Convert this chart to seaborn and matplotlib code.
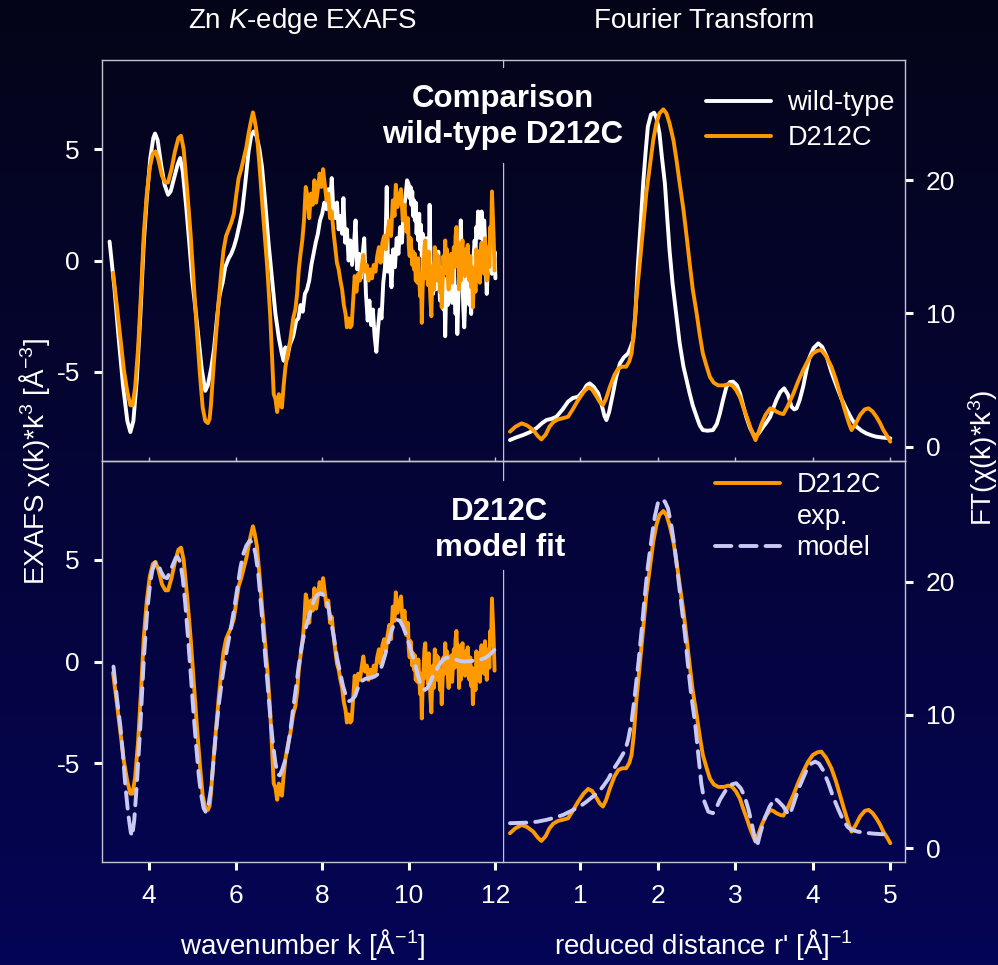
import numpy as np
import pandas as pd
import matplotlib
matplotlib.use("Agg")
import matplotlib.pyplot as plt
from matplotlib.lines import Line2D
import seaborn as sns

# ---------------- data: EXAFS k-space (k in 1/Angstrom, chi*k^3) ----------------
wt_k = [3.09, 3.20, 3.30, 3.40, 3.50, 3.57, 3.64, 3.72, 3.80, 3.88, 3.95, 4.03, 4.10, 4.14,
        4.20, 4.28, 4.36, 4.44, 4.50, 4.58, 4.66, 4.72, 4.78, 4.86, 4.93, 5.00, 5.08, 5.15,
        5.22, 5.30, 5.36, 5.44, 5.50, 5.57, 5.62, 5.66, 5.70, 5.76, 5.84, 5.90, 5.96, 6.02,
        6.10, 6.15, 6.22, 6.30, 6.36, 6.42, 6.48, 6.55, 6.61, 6.68, 6.76, 6.84, 6.92, 7.00,
        7.07, 7.11, 7.15, 7.19, 7.25, 7.33, 7.40,
        7.45, 7.50, 7.55, 7.60, 7.65, 7.70, 7.75, 7.80, 7.85, 7.90, 7.95, 8.00, 8.05, 8.10,
        8.14, 8.18, 8.22, 8.26, 8.30, 8.34, 8.38, 8.42, 8.46, 8.49, 8.53, 8.57, 8.61, 8.65,
        8.69, 8.73, 8.77, 8.81, 8.85, 8.89, 8.93, 8.97, 9.01, 9.05, 9.09, 9.13, 9.17, 9.21,
        9.25, 9.29, 9.33, 9.37, 9.41, 9.45, 9.49, 9.52, 9.56, 9.60, 9.64, 9.68, 9.72, 9.76,
        9.80, 9.84, 9.88, 9.92, 9.96,
        10.00, 10.02, 10.04, 10.06, 10.08, 10.10, 10.12, 10.14, 10.16, 10.18, 10.20, 10.22,
        10.24, 10.26, 10.28, 10.30, 10.32, 10.34, 10.36, 10.38, 10.40, 10.42, 10.44, 10.46,
        10.48, 10.50, 10.52, 10.54, 10.56, 10.58, 10.60, 10.62, 10.64, 10.66, 10.68, 10.70,
        10.72, 10.74, 10.76, 10.78, 10.80, 10.82, 10.84, 10.86, 10.88, 10.90, 10.92, 10.94,
        10.96, 10.98, 11.00, 11.02, 11.04, 11.06, 11.08, 11.10, 11.12, 11.14, 11.16, 11.18,
        11.20, 11.22, 11.24, 11.26, 11.28, 11.30, 11.32, 11.34, 11.36, 11.38, 11.40, 11.42,
        11.44, 11.46, 11.48, 11.50, 11.52, 11.54, 11.56, 11.58, 11.60, 11.62, 11.64, 11.66,
        11.68, 11.70, 11.72, 11.74, 11.76, 11.78, 11.80, 11.82, 11.84, 11.86, 11.88, 11.90,
        11.92, 11.94, 11.96, 11.98, 12.00]
wt_chi = [0.85, -1.2, -3.5, -5.6, -7.2, -7.7, -7.2, -5.3, -2.5, 0.8, 2.8, 4.6, 5.5, 5.7,
          5.4, 4.3, 3.4, 2.95, 3.1, 3.7, 4.3, 4.6, 4.0, 2.4, 0.8, -0.9, -2.3, -3.6,
          -4.9, -5.85, -5.6, -4.8, -4.0, -2.6, -1.7, -1.3, -1.0, -0.3, 0.1, 0.3, 0.6, 1.0,
          1.7, 2.2, 3.4, 4.9, 5.6, 5.8, 5.6, 5.0, 4.2, 2.7, 0.8, -0.8, -2.4, -3.5,
          -4.2, -4.5, -3.9, -4.4, -3.8, -3.4, -2.7,
          -2.6, -2.0, -2.3, -1.5, -1.3, -0.9, -0.2, 0.3, 0.8, 1.2, 1.8, 2.1, 2.6, 2.3,
          3.2, 2.4, 3.7, 2.2, 1.9, 2.6, 1.4, 2.0, 1.2, 2.8, 0.8, 1.4, 0.0, 0.9,
          -0.2, 0.6, 1.8, -0.4, 0.3, -0.8, 0.2, 1.0, -1.5, -2.7, -1.8, -2.9, -2.2, -3.4,
          -4.1, -3.0, -2.2, -2.6, -1.0, -0.3, 3.3, -0.5, 0.2, -1.2, 0.5, -0.3, 1.0, 0.3,
          1.5, 0.8, 2.2, 2.8, 3.6,
          3.4, 2.8, 3.3, 2.5, 3.1, 2.0, 2.7, 1.8, 2.6, 1.2, 2.0, 0.9,
          2.1, 0.5, 1.6, 0.2, 1.2, -0.5, 0.8, -0.2, 1.0, -0.8, 0.5, -0.4,
          2.5, 0.0, -1.2, -0.3, -1.5, -0.6, -0.1, -1.3, 0.2, -1.0, 0.4, -0.9,
          -1.8, -0.5, -1.4, -0.3, -2.2, -1.0, -3.4, -1.6, -0.8, -2.0, -1.1, -0.4,
          -1.5, -0.6, -1.9, -0.9, -0.3, -1.6, -2.4, -1.2, -3.3, -1.9, -0.6, 0.5,
          1.8, 0.2, -1.0, -2.2, -3.0, -2.0, -1.2, -0.4, -1.5, -0.8, -2.0, -1.1,
          -2.4, -0.9, -0.2, 0.3, 0.9, 0.4, 1.5, 1.0, 2.2, 1.3, 1.9, 1.0,
          2.2, 1.4, 0.6, 1.8, 0.9, -0.4, -1.5, -0.6, 0.3, -0.3, 0.8, 0.1,
          -0.6, 0.5, -0.2, 0.4, -0.8]

mut_k = [3.17, 3.25, 3.33, 3.42, 3.50, 3.57, 3.62, 3.68, 3.75, 3.82, 3.88, 3.95, 4.02, 4.09,
         4.15, 4.22, 4.30, 4.38, 4.44, 4.52, 4.60, 4.68, 4.74, 4.80, 4.88, 4.96, 5.04, 5.11,
         5.18, 5.24, 5.30, 5.36, 5.40, 5.43, 5.49, 5.55, 5.61, 5.67, 5.72, 5.78, 5.84, 5.90,
         5.96, 6.02, 6.07, 6.13, 6.19, 6.25, 6.30, 6.35, 6.40, 6.44, 6.49, 6.55, 6.61, 6.67,
         6.73, 6.80, 6.84, 6.88, 6.92, 6.96, 7.00, 7.04, 7.07, 7.11, 7.15, 7.20, 7.26, 7.33,
         7.38,
         7.42, 7.46, 7.50, 7.54, 7.58, 7.62, 7.66, 7.70, 7.74, 7.78, 7.82, 7.86, 7.90, 7.94,
         7.98, 8.02, 8.06, 8.10, 8.14, 8.18, 8.22, 8.26, 8.30, 8.34, 8.38, 8.42, 8.46, 8.50,
         8.54, 8.57, 8.61, 8.65, 8.68, 8.72, 8.75, 8.79, 8.83, 8.87, 8.91, 8.95, 8.99, 9.03,
         9.07, 9.11, 9.15, 9.19, 9.23, 9.27, 9.31, 9.35, 9.39, 9.43, 9.47, 9.51, 9.55, 9.59,
         9.63, 9.67, 9.70, 9.74, 9.78, 9.82, 9.86, 9.90, 9.94, 9.98,
         10.00, 10.02, 10.04, 10.06, 10.08, 10.10, 10.12, 10.14, 10.16, 10.18, 10.20, 10.22,
         10.24, 10.26, 10.28, 10.30, 10.32, 10.34, 10.36, 10.38, 10.40, 10.42, 10.44, 10.46,
         10.48, 10.50, 10.52, 10.54, 10.56, 10.58, 10.60, 10.62, 10.64, 10.66, 10.68, 10.70,
         10.72, 10.74, 10.76, 10.78, 10.80, 10.82, 10.84, 10.86, 10.88, 10.90, 10.92, 10.94,
         10.96, 10.98, 11.00, 11.02, 11.04, 11.06, 11.08, 11.10, 11.12, 11.14, 11.16, 11.18,
         11.20, 11.22, 11.24, 11.26, 11.28, 11.30, 11.32, 11.34, 11.36, 11.38, 11.40, 11.42,
         11.44, 11.46, 11.48, 11.50, 11.52, 11.54, 11.56, 11.58, 11.60, 11.62, 11.64, 11.66,
         11.68, 11.70, 11.72, 11.74, 11.76, 11.78, 11.80, 11.82, 11.84, 11.86, 11.88, 11.90,
         11.92, 11.94, 11.96, 11.98]
mut_chi = [-0.55, -1.9, -3.3, -4.9, -5.9, -6.5, -6.5, -5.7, -3.9, -1.3, 1.2, 3.0, 4.2, 4.8,
           4.9, 4.5, 3.8, 3.5, 3.5, 4.1, 4.9, 5.5, 5.6, 5.0, 3.2, 1.2, -1.2, -3.3,
           -5.2, -6.6, -7.2, -7.3, -7.1, -6.5, -4.8, -3.3, -1.8, -0.5, 0.45, 1.1, 1.4, 1.7,
           2.1, 3.0, 3.7, 4.1, 4.6, 5.1, 5.7, 6.2, 6.65, 6.3, 5.7, 4.3, 2.7, 1.2,
           -0.3, -2.5, -4.3, -6.0, -6.2, -6.8, -6.0, -6.5, -6.6, -5.6, -4.8, -4.2, -3.6, -2.6,
           -2.2,
           -1.5, -0.4, 0.3, 0.9, 1.8, 3.3, 2.9, 1.9, 3.0, 2.5, 3.6, 2.6, 3.2, 3.9,
           3.3, 4.1, 3.4, 2.7, 3.0, 1.9, 2.2, 1.3, 0.6, -0.1, -0.4, -0.9, -1.3, -2.0,
           -2.4, -3.0, -2.6, -3.0, -2.9, -1.6, -0.7, -1.4, -0.6, -0.9, -0.3, 0.25, -0.5, -0.2,
           -0.9, -0.4, -0.8, -0.2, -0.5, 0.2, 0.6, -0.1, 0.8, 1.1, 0.5, 1.3, 1.8, 1.1,
           2.7, 2.0, 3.4, 2.4, 2.8, 3.2, 1.8, 2.5, 1.3, 1.9,
           0.6, 0.2, 1.0, 0.5, -0.2, 0.4, -0.4, 0.3, -0.9, -0.3, -1.0, 0.1,
           -0.8, -1.6, -0.6, -2.8, -1.2, -0.4, 0.6, 0.9, -0.8, 0.2, -1.1, 0.4,
           -0.9, -1.8, -2.5, -1.0, -0.2, -1.3, 0.6, -0.6, 0.3, -0.9, 0.2, -0.4,
           -1.4, -0.5, -2.1, -0.9, 0.2, -0.6, 0.9, 0.0, 0.5, -0.7, -1.3, 0.1,
           -0.6, 0.3, -1.0, -0.2, 0.6, -0.3, 1.1, 1.5, 0.2, 0.8, -1.3, -0.2,
           -0.9, 0.4, 0.9, -0.5, 0.1, -0.7, 0.5, -0.2, 0.7, -0.4, -0.9, 0.2,
           -1.2, -0.3, -2.1, -1.0, -0.4, -1.4, 0.5, -0.3, 0.4, -0.5, -1.0, 0.3,
           0.8, -0.4, 0.3, -0.6, 1.0, 0.1, -0.9, 0.2, 0.6, -0.3, 1.5, 0.9,
           3.1, 2.0, 1.0, -0.45]

fit_k = [3.18, 3.26, 3.34, 3.40, 3.45, 3.52, 3.58, 3.61, 3.66, 3.72, 3.80, 3.88, 3.96, 4.03,
         4.08, 4.15, 4.21, 4.28, 4.35, 4.42, 4.48, 4.55, 4.62, 4.66, 4.72, 4.78, 4.84, 4.90,
         4.96, 5.02, 5.08, 5.15, 5.20, 5.26, 5.31, 5.37, 5.43, 5.49, 5.55, 5.62, 5.70, 5.80,
         5.88, 5.96, 6.04, 6.11, 6.18, 6.25, 6.33, 6.40, 6.46, 6.52, 6.57, 6.63, 6.69, 6.75,
         6.80, 6.86, 6.92, 6.97, 7.02, 7.08, 7.14, 7.20, 7.27, 7.33, 7.40, 7.46, 7.53, 7.60,
         7.68, 7.76, 7.83, 7.90, 7.96, 8.02, 8.08, 8.14, 8.20, 8.27, 8.34, 8.41, 8.48, 8.55,
         8.62, 8.68, 8.76, 8.84, 8.92, 9.00, 9.10, 9.20, 9.30, 9.38, 9.45, 9.52, 9.60, 9.67,
         9.73, 9.80, 9.87, 9.94, 10.00, 10.07, 10.14, 10.20, 10.26, 10.32, 10.37, 10.43,
         10.49, 10.56, 10.64, 10.72, 10.80, 10.88, 10.96, 11.07, 11.20, 11.30, 11.42, 11.53,
         11.65, 11.76, 11.85, 11.92, 11.99]
fit_chi = [-0.25, -1.8, -3.2, -4.6, -6.0, -7.5, -8.4, -8.6, -7.8, -6.0, -3.2, 0.1, 2.5, 3.9,
           4.5, 4.9, 4.8, 4.4, 4.15, 4.1, 4.4, 4.75, 5.1, 5.15, 4.9, 4.1, 2.8, 1.2,
           -0.5, -2.3, -3.9, -5.6, -6.5, -7.2, -7.4, -7.1, -6.3, -4.9, -3.4, -2.0, -0.7, 0.6,
           1.5, 2.5, 3.6, 4.6, 5.3, 5.7, 5.95, 5.8, 5.3, 4.4, 3.2, 1.7, 0.1, -1.4,
           -2.7, -4.0, -5.0, -5.55, -5.6, -5.3, -4.9, -4.3, -3.3, -2.3, -1.2, -0.2, 0.8, 1.5,
           2.1, 2.7, 3.1, 3.3, 3.35, 3.3, 3.1, 2.7, 2.0, 1.2, 0.2, -0.5, -1.2, -1.7,
           -1.95, -1.9, -1.7, -1.2, -0.95, -0.85, -0.8, -0.75, -0.6, -0.2, 0.3, 0.9, 1.5, 1.9,
           2.05, 2.0, 1.7, 1.3, 0.9, 0.4, -0.1, -0.6, -1.05, -1.3, -1.4, -1.3,
           -1.05, -0.7, -0.4, -0.1, 0.1, 0.2, 0.15, 0.1, 0.02, 0.0, 0.02, 0.05,
           0.1, 0.17, 0.3, 0.45, 0.6]

# ---------------- data: Fourier transforms (reduced distance r', |FT|) ----------------
wt_r = [0.09, 0.17, 0.26, 0.35, 0.43, 0.50, 0.56, 0.63, 0.69, 0.77, 0.84, 0.90, 0.97, 1.04,
        1.08, 1.12, 1.17, 1.23, 1.28, 1.31, 1.335, 1.37, 1.42, 1.46, 1.51, 1.56, 1.615, 1.65,
        1.68, 1.71, 1.74, 1.78, 1.81, 1.84, 1.87, 1.91, 1.95, 1.98, 2.02, 2.05, 2.09, 2.12,
        2.15, 2.19, 2.24, 2.28, 2.33, 2.37, 2.41, 2.45, 2.50, 2.54, 2.58, 2.64, 2.71, 2.76,
        2.80, 2.84, 2.885, 2.93, 2.97, 3.02, 3.06, 3.10, 3.14, 3.19, 3.25, 3.30, 3.36, 3.40,
        3.45, 3.49, 3.53, 3.58, 3.63, 3.68, 3.725, 3.76, 3.79, 3.83, 3.875, 3.92, 3.96, 4.01,
        4.07, 4.12, 4.18, 4.24, 4.31, 4.37, 4.44, 4.50, 4.565, 4.63, 4.69, 4.76, 4.82, 4.91,
        5.0]
wt_ft = [0.5, 0.7, 0.88, 1.1, 1.38, 1.75, 2.0, 2.1, 2.25, 2.8, 3.38, 3.65, 3.75, 4.2,
         4.6, 4.75, 4.5, 4.0, 3.0, 2.3, 2.0, 2.6, 4.0, 5.2, 6.25, 6.7, 7.0, 7.5,
         8.0, 10.0, 13.5, 17.0, 19.75, 22.0, 24.0, 24.9, 25.05, 24.7, 23.5, 21.8, 19.75, 17.2,
         14.75, 12.2, 9.75, 7.8, 6.0, 5.0, 4.0, 3.1, 2.25, 1.6, 1.25, 1.2, 1.25, 1.7,
         2.5, 3.5, 4.5, 4.85, 4.88, 4.6, 4.0, 3.1, 2.25, 1.4, 0.75, 1.0, 1.5, 1.8,
         2.25, 2.9, 3.5, 4.1, 4.38, 3.9, 3.0, 2.8, 2.88, 3.5, 4.5, 5.8, 6.75, 7.4,
         7.75, 7.5, 6.75, 5.6, 4.5, 3.6, 2.75, 2.1, 1.5, 1.2, 1.0, 0.85, 0.75, 0.68,
         0.63]

mut_r = [0.09, 0.16, 0.24, 0.31, 0.39, 0.45, 0.495, 0.55, 0.60, 0.65, 0.71, 0.78, 0.84, 0.90,
         0.97, 1.04, 1.10, 1.15, 1.21, 1.25, 1.29, 1.33, 1.38, 1.44, 1.49, 1.54, 1.59, 1.63,
         1.66, 1.69, 1.72, 1.77, 1.81, 1.85, 1.895, 1.94, 1.98, 2.02, 2.07, 2.11, 2.15, 2.20,
         2.24, 2.28, 2.33, 2.37, 2.41, 2.45, 2.50, 2.54, 2.58, 2.63, 2.67, 2.72, 2.78, 2.85,
         2.91, 2.96, 3.01, 3.06, 3.10, 3.15, 3.19, 3.23, 3.26, 3.30, 3.34, 3.39, 3.45, 3.49,
         3.53, 3.58, 3.62, 3.68, 3.75, 3.81, 3.875, 3.94, 4.00, 4.06, 4.11, 4.17, 4.24, 4.30,
         4.35, 4.40, 4.44, 4.47, 4.50, 4.55, 4.61, 4.67, 4.72, 4.77, 4.82, 4.87, 4.91, 4.96,
         5.0]
mut_ft = [1.13, 1.5, 1.75, 1.6, 1.25, 0.8, 0.55, 0.9, 1.5, 1.85, 2.05, 2.15, 2.25, 2.8,
          3.5, 4.1, 4.45, 4.3, 3.75, 3.35, 3.13, 3.6, 4.5, 5.4, 5.88, 6.0, 6.0, 6.4,
          7.0, 8.6, 11.0, 14.0, 16.5, 19.0, 21.0, 23.0, 24.25, 25.0, 25.3, 25.0, 24.25, 23.0,
          21.5, 19.8, 17.75, 15.8, 13.75, 11.8, 10.0, 8.4, 7.0, 6.0, 5.25, 4.8, 4.6, 4.6,
          4.7, 4.6, 4.25, 3.7, 3.0, 2.2, 1.5, 0.9, 0.5, 1.1, 1.75, 2.4, 2.88, 2.8,
          2.63, 2.5, 2.45, 3.1, 4.0, 4.9, 5.75, 6.5, 7.0, 7.2, 7.25, 6.8, 6.0, 5.0,
          4.0, 3.0, 2.25, 1.7, 1.25, 1.7, 2.38, 2.8, 2.88, 2.65, 2.25, 1.75, 1.25, 0.8,
          0.38]

fit_r = [0.09, 0.20, 0.34, 0.45, 0.56, 0.67, 0.775, 0.88, 0.99, 1.08, 1.16, 1.23, 1.29, 1.36,
         1.42, 1.48, 1.53, 1.58, 1.615, 1.66, 1.70, 1.75, 1.79, 1.83, 1.87, 1.92, 1.96, 2.00,
         2.05, 2.09, 2.13, 2.18, 2.22, 2.26, 2.30, 2.35, 2.39, 2.43, 2.48, 2.52, 2.56, 2.60,
         2.65, 2.71, 2.76, 2.80, 2.86, 2.91, 2.96, 3.01, 3.07, 3.12, 3.17, 3.21, 3.25, 3.28,
         3.32, 3.38, 3.44, 3.51, 3.56, 3.62, 3.66, 3.70, 3.75, 3.81, 3.87, 3.92, 3.98, 4.03,
         4.08, 4.13, 4.20, 4.26, 4.33, 4.39, 4.45, 4.50, 4.58, 4.65, 4.78, 4.91]
fit_ft = [1.88, 1.9, 1.93, 2.0, 2.13, 2.3, 2.5, 2.8, 3.13, 3.5, 3.88, 4.2, 4.63, 5.2,
          5.88, 6.4, 6.88, 7.4, 8.13, 9.5, 11.38, 14.0, 16.38, 18.9, 21.13, 23.3, 24.88, 25.9,
          26.18, 26.0, 25.5, 24.0, 22.38, 20.4, 18.38, 16.0, 13.63, 11.5, 9.38, 7.1, 4.88, 3.5,
          2.75, 2.63, 3.1, 3.63, 4.2, 4.63, 4.8, 4.88, 4.5, 3.88, 2.9, 1.88, 0.8, 0.13,
          1.1, 2.25, 3.1, 3.75, 3.5, 3.13, 2.75, 2.5, 3.3, 4.38, 5.2, 5.88, 6.35, 6.5,
          6.35, 5.88, 4.9, 3.88, 2.9, 2.13, 1.6, 1.38, 1.25, 1.18, 1.1, 1.05]

# tick values
k_ticks = [4, 6, 8, 10, 12]
r_ticks = [1, 2, 3, 4, 5]
chi_ticks = [-5, 0, 5]
ft_ticks = [0, 10, 20]

# ---------------- styling ----------------
sns.set_theme(style="ticks")
plt.rcParams["font.family"] = ["Liberation Sans", "DejaVu Sans"]
plt.rcParams["mathtext.fontset"] = "custom"
plt.rcParams["mathtext.rm"] = "Liberation Sans"
plt.rcParams["mathtext.it"] = "Liberation Sans:italic"
plt.rcParams["mathtext.bf"] = "Liberation Sans:bold"
plt.rcParams["axes.unicode_minus"] = False

WHITE = "#ffffff"
ORANGE = "#ff9900"
LAVENDER = "#c9c9f4"
FRAME = "#c4c4d0"
LW = 2.8
FS = 19
DASH = (0, (4.2, 2.3))

W, H = 998, 965
fig = plt.figure(figsize=(W / 100, H / 100), dpi=100)

# vertical navy gradient behind everything
bg = fig.add_axes([0, 0, 1, 1], zorder=0)
top_rgb = np.array([4, 4, 24]) / 255
bot_rgb = np.array([5, 5, 86]) / 255
t = np.linspace(0, 1, 256)[:, None]
grad = top_rgb[None, :] * (1 - t) + bot_rgb[None, :] * t
bg.imshow(np.repeat(grad[:, None, :], 4, axis=1), aspect="auto", extent=[0, 1, 0, 1],
          interpolation="bilinear")
bg.set_axis_off()


def px_axes(x0, y0, x1, y1):
    """Axes from a pixel box measured from the top-left corner."""
    return fig.add_axes([x0 / W, 1 - y1 / H, (x1 - x0) / W, (y1 - y0) / H], zorder=1)


ax_tl = px_axes(102, 60, 503, 461)
ax_tr = px_axes(503, 60, 905, 461)
ax_bl = px_axes(102, 461, 503, 862)
ax_br = px_axes(503, 461, 905, 862)


def draw(ax, x, y, color, dashed=False):
    df = pd.DataFrame({"x": x, "y": y})
    sns.lineplot(data=df, x="x", y="y", ax=ax, color=color, lw=LW, sort=False,
                 estimator=None, legend=False, solid_joinstyle="round",
                 solid_capstyle="round")
    line = ax.lines[-1]
    if dashed:
        line.set_linestyle(DASH)
        line.set_dash_capstyle("round")
    return line


draw(ax_tl, wt_k, wt_chi, WHITE)
draw(ax_tl, mut_k, mut_chi, ORANGE)
draw(ax_bl, mut_k, mut_chi, ORANGE)
draw(ax_bl, fit_k, fit_chi, LAVENDER, dashed=True)

draw(ax_tr, wt_r, wt_ft, WHITE)
draw(ax_tr, mut_r, mut_ft, ORANGE)
draw(ax_br, mut_r, mut_ft, ORANGE)
draw(ax_br, fit_r, fit_ft, LAVENDER, dashed=True)

for ax in (ax_tl, ax_tr, ax_bl, ax_br):
    ax.set_facecolor("none")
    ax.set_xlabel("")
    ax.set_ylabel("")
    for s in ax.spines.values():
        s.set_color(FRAME)
        s.set_linewidth(1.0)

ax_tl.set_xlim(2.915, 12.175)
ax_bl.set_xlim(2.915, 12.175)
ax_tr.set_xlim(0, 5.19)
ax_br.set_xlim(0, 5.19)
ax_tl.set_ylim(-9.0, 9.0)
ax_bl.set_ylim(-9.86, 9.86)
ax_tr.set_ylim(-1.07, 29.0)
ax_br.set_ylim(-1.03, 29.05)

# shared inner divider drawn by hand so the bold captions can interrupt it
for ax in (ax_tl, ax_bl):
    ax.spines["right"].set_visible(False)
for ax in (ax_tr, ax_br):
    ax.spines["left"].set_visible(False)
ax_tr.axvline(0, 0, 0.743, color=FRAME, lw=1.0, zorder=2)
ax_tr.axvline(0, 0.983, 1, color=FRAME, lw=1.0, zorder=2)
ax_br.axvline(0, 0, 0.728, color=FRAME, lw=1.0, zorder=2)
ax_br.axvline(0, 0.953, 1, color=FRAME, lw=1.0, zorder=2)

tick_kw = dict(length=5.8, width=2.2, color=WHITE, labelsize=FS, labelcolor=WHITE)

for ax in (ax_tl, ax_bl):
    ax.set_yticks(chi_ticks)
    ax.set_yticklabels([str(v) for v in chi_ticks])
    ax.tick_params(axis="y", direction="out", pad=10, **tick_kw)
for ax in (ax_tr, ax_br):
    ax.yaxis.tick_right()
    ax.set_yticks(ft_ticks)
    ax.set_yticklabels([str(v) for v in ft_ticks])
    ax.tick_params(axis="y", direction="out", pad=9, left=False, right=True, **tick_kw)

ax_tl.set_xticks(k_ticks)
ax_bl.set_xticks(k_ticks)
ax_tr.set_xticks(r_ticks)
ax_br.set_xticks(r_ticks)
for ax in (ax_tl, ax_tr):
    ax.tick_params(axis="x", direction="in", length=3, width=1, color=FRAME,
                   labelbottom=False)
for ax, ticks in ((ax_bl, k_ticks), (ax_br, r_ticks)):
    ax.set_xticklabels([str(v) for v in ticks])
    ax.tick_params(axis="x", direction="out", pad=10, **tick_kw)

# legends
ax_tr.legend(
    handles=[Line2D([], [], color=WHITE, lw=LW), Line2D([], [], color=ORANGE, lw=LW)],
    labels=["wild-type", "D212C"], loc="upper left", bbox_to_anchor=(0.505, 0.925),
    frameon=False, fontsize=FS + 0.5, handlelength=2.4, handletextpad=0.6,
    labelspacing=0.33, borderpad=0, borderaxespad=0, labelcolor=WHITE)
ax_br.legend(
    handles=[Line2D([], [], color=ORANGE, lw=LW), Line2D([], [], color="none", lw=0),
             Line2D([], [], color=LAVENDER, lw=LW, linestyle=DASH, dash_capstyle="round")],
    labels=["D212C", "exp.", "model"], loc="upper left", bbox_to_anchor=(0.528, 0.972),
    frameon=False, fontsize=FS + 0.5, handlelength=2.4, handletextpad=0.6,
    labelspacing=0.2, borderpad=0, borderaxespad=0, labelcolor=WHITE)

# bold captions centred on the divider
fig.text(503 / W, 1 - 117 / H, "Comparison\nwild-type D212C", ha="center", va="center",
         fontsize=22.5, fontweight="bold", color=WHITE, linespacing=1.3)
fig.text(500 / W, 1 - 530 / H, "D212C\nmodel fit", ha="center", va="center",
         fontsize=22.5, fontweight="bold", color=WHITE, linespacing=1.3)

# column titles
fig.text(302.5 / W, 1 - 21 / H, "Zn $K$-edge EXAFS", ha="center", va="center",
         fontsize=20, color=WHITE)
fig.text(704 / W, 1 - 21 / H, "Fourier Transform", ha="center", va="center",
         fontsize=20, color=WHITE)

# axis labels
fig.text(35 / W, 1 - 462 / H, "EXAFS χ(k)*k$^3$ [Å$^{-3}$]", ha="center", va="center",
         rotation=90, fontsize=FS + 1, color=WHITE)
fig.text(983 / W, 1 - 458 / H, "FT(χ(k)*k$^3$)", ha="center", va="center",
         rotation=90, fontsize=FS + 1, color=WHITE)
fig.text(302.5 / W, 1 - 944 / H, "wavenumber k [Å$^{-1}$]", ha="center", va="center",
         fontsize=FS + 1, color=WHITE)
fig.text(703 / W, 1 - 944 / H, "reduced distance r' [Å]$^{-1}$", ha="center", va="center",
         fontsize=FS + 1, color=WHITE)

fig.savefig("out.png", dpi=100, facecolor=fig.get_facecolor())
